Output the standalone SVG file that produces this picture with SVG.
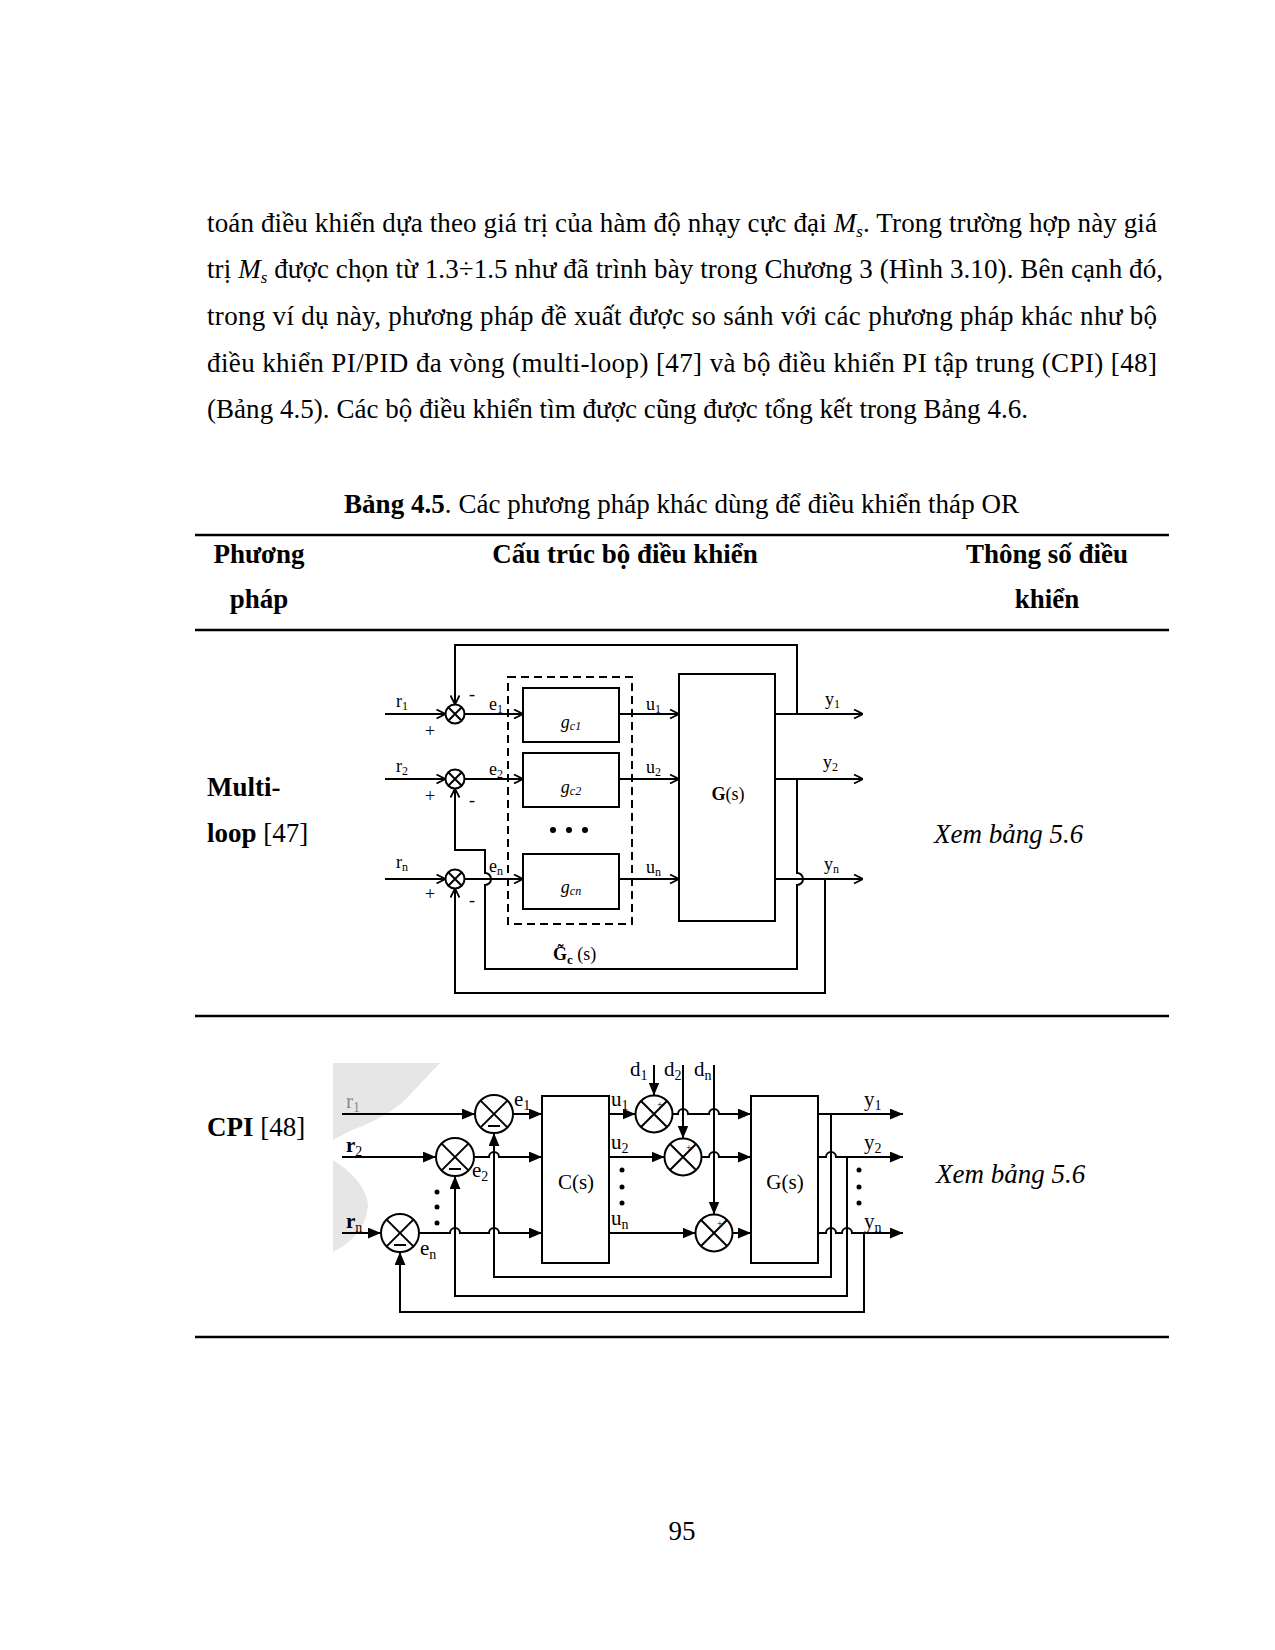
<svg xmlns="http://www.w3.org/2000/svg" width="1275" height="1650" viewBox="0 0 1275 1650">
<style>
.body{font-family:"Liberation Serif","Times New Roman",serif;font-size:27px;fill:#000}
.hdr{font-family:"Liberation Serif",serif;font-size:27px;font-weight:bold;fill:#000}
.it{font-style:italic}
.rule{stroke:#000;stroke-width:2.5}
.ln{fill:none;stroke:#000;stroke-width:2}
.ml{font-family:"Liberation Serif",serif;font-size:18px;fill:#000}
.cp{font-family:"Liberation Serif",serif;font-size:21px;fill:#000}
.blk{fill:#fff;stroke:#000;stroke-width:2}
</style>
<defs>
<marker id="oa" viewBox="0 0 10 10" refX="10" refY="5" markerWidth="10" markerHeight="10" markerUnits="userSpaceOnUse" orient="auto">
<path d="M1,0.5 L10,5 L1,9.5" fill="none" stroke="#000" stroke-width="1.8"/>
</marker>
<marker id="fa" viewBox="0 0 12 10" refX="12" refY="5" markerWidth="13" markerHeight="11" markerUnits="userSpaceOnUse" orient="auto">
<path d="M0,0 L12,5 L0,10 Z" fill="#000"/>
</marker>
</defs>

<!-- body text -->
<g id="paragraph">
<text class="body" x="207" y="232" textLength="950" lengthAdjust="spacing">toán điều khiển dựa theo giá trị của hàm độ nhạy cực đại <tspan class="it">M</tspan><tspan class="it" font-size="17" dy="5">s</tspan><tspan dy="-5">. Trong trường hợp này giá</tspan></text>
<text class="body" x="207" y="278" textLength="956" lengthAdjust="spacing">trị <tspan class="it">M</tspan><tspan class="it" font-size="17" dy="5">s</tspan><tspan dy="-5"> được chọn từ 1.3÷1.5 như đã trình bày trong Chương 3 (Hình 3.10). Bên cạnh đó,</tspan></text>
<text class="body" x="207" y="325" textLength="950" lengthAdjust="spacing">trong ví dụ này, phương pháp đề xuất được so sánh với các phương pháp khác như bộ</text>
<text class="body" x="207" y="372" textLength="950" lengthAdjust="spacing">điều khiển PI/PID đa vòng (multi-loop) [47] và bộ điều khiển PI tập trung (CPI) [48]</text>
<text class="body" x="207" y="418" textLength="821" lengthAdjust="spacing">(Bảng 4.5). Các bộ điều khiển tìm được cũng được tổng kết trong Bảng 4.6.</text>
</g>

<g id="caption">
<text class="body" x="344" y="513" textLength="675" lengthAdjust="spacing"><tspan font-weight="bold">Bảng 4.5</tspan>. Các phương pháp khác dùng để điều khiển tháp OR</text>
</g>

<!-- table rules -->
<g id="table-rules">
<line class="rule" x1="195" y1="535" x2="1169" y2="535" stroke-width="3"/>
<line class="rule" x1="195" y1="630" x2="1169" y2="630"/>
<line class="rule" x1="195" y1="1016" x2="1169" y2="1016"/>
<line class="rule" x1="195" y1="1337" x2="1169" y2="1337"/>
</g>

<g id="header">
<text class="hdr" x="259" y="563" text-anchor="middle">Phương</text>
<text class="hdr" x="259" y="608" text-anchor="middle">pháp</text>
<text class="hdr" x="625" y="563" text-anchor="middle">Cấu trúc bộ điều khiển</text>
<text class="hdr" x="1047" y="563" text-anchor="middle">Thông số điều</text>
<text class="hdr" x="1047" y="608" text-anchor="middle">khiển</text>
</g>

<g id="row-multiloop">
<text class="hdr" x="207" y="796">Multi-</text>
<text class="body" x="207" y="842"><tspan font-weight="bold">loop</tspan> [47]</text>
<text class="body it" x="934" y="843">Xem bảng 5.6</text>
</g>

<g id="row-cpi">
<text class="body" x="207" y="1136"><tspan font-weight="bold">CPI</tspan> [48]</text>
<text class="body it" x="936" y="1183">Xem bảng 5.6</text>
</g>

<g id="page-number">
<text class="body" x="682" y="1540" text-anchor="middle">95</text>
</g>

<!-- ===== Multi-loop diagram ===== -->
<g id="ml-dashed-box">
<rect x="508" y="677" width="124" height="247" fill="none" stroke="#000" stroke-width="2" stroke-dasharray="8,5"/>
<text class="ml" x="553" y="960"><tspan font-weight="bold">G̃</tspan><tspan font-size="13" dy="4" font-weight="bold">c</tspan><tspan dy="-4"> (s)</tspan></text>
</g>
<g id="ml-sum1"><circle cx="455" cy="714" r="9.5" class="blk"/><path class="ln" d="M448.3,707.3 L461.7,720.7 M461.7,707.3 L448.3,720.7" stroke-width="1.6"/></g>
<g id="ml-sum2"><circle cx="455" cy="779" r="9.5" class="blk"/><path class="ln" d="M448.3,772.3 L461.7,785.7 M461.7,772.3 L448.3,785.7" stroke-width="1.6"/></g>
<g id="ml-sumn"><circle cx="455" cy="879" r="9.5" class="blk"/><path class="ln" d="M448.3,872.3 L461.7,885.7 M461.7,872.3 L448.3,885.7" stroke-width="1.6"/></g>
<g id="ml-gc1"><rect x="523" y="688" width="96" height="54" class="blk"/><text class="ml it" x="571" y="728" text-anchor="middle" font-size="19">g<tspan font-size="12" dy="2">c1</tspan></text></g>
<g id="ml-gc2"><rect x="523" y="753" width="96" height="54" class="blk"/><text class="ml it" x="571" y="793" text-anchor="middle" font-size="19">g<tspan font-size="12" dy="2">c2</tspan></text></g>
<g id="ml-gcn"><rect x="523" y="854" width="96" height="55" class="blk"/><text class="ml it" x="571" y="893" text-anchor="middle" font-size="19">g<tspan font-size="12" dy="2">cn</tspan></text></g>
<g id="ml-dots"><circle cx="553" cy="830" r="3"/><circle cx="569" cy="830" r="3"/><circle cx="585" cy="830" r="3"/></g>
<g id="ml-G"><rect x="679" y="674" width="96" height="247" class="blk"/><text class="ml" x="728" y="800" text-anchor="middle" font-size="21"><tspan font-weight="bold">G</tspan>(s)</text></g>

<g id="ml-connectors">
<path class="ln" d="M385,714 L445.5,714" marker-end="url(#oa)"/>
<path class="ln" d="M385,779 L445.5,779" marker-end="url(#oa)"/>
<path class="ln" d="M385,879 L445.5,879" marker-end="url(#oa)"/>
<path class="ln" d="M464.5,714 L523,714" marker-end="url(#oa)"/>
<path class="ln" d="M464.5,779 L523,779" marker-end="url(#oa)"/>
<path class="ln" d="M464.5,879 L523,879" marker-end="url(#oa)"/>
<path class="ln" d="M619,714 L679,714" marker-end="url(#oa)"/>
<path class="ln" d="M619,779 L679,779" marker-end="url(#oa)"/>
<path class="ln" d="M619,879 L679,879" marker-end="url(#oa)"/>
<path class="ln" d="M775,714 L863,714" marker-end="url(#oa)"/>
<path class="ln" d="M775,779 L863,779" marker-end="url(#oa)"/>
<path class="ln" d="M775,879 L863,879" marker-end="url(#oa)"/>
<path class="ln" d="M797,714 L797,645 L455,645 L455,704.5" marker-end="url(#oa)"/>
<path class="ln" d="M797,779 L797,873 A6,6 0 0 1 797,885 L797,969 L485,969 L485,885 A6,6 0 0 0 485,873 L485,850 L455,850 L455,788.5" marker-end="url(#oa)"/>
<path class="ln" d="M825,879 L825,993 L455,993 L455,888.5" marker-end="url(#oa)"/>
</g>
<g id="ml-labels" class="ml">
<text x="396" y="707">r<tspan font-size="12" dy="3">1</tspan></text>
<text x="396" y="772">r<tspan font-size="12" dy="3">2</tspan></text>
<text x="396" y="868">r<tspan font-size="12" dy="3">n</tspan></text>
<text x="430" y="737" text-anchor="middle">+</text>
<text x="430" y="802" text-anchor="middle">+</text>
<text x="430" y="900" text-anchor="middle">+</text>
<text x="472" y="700" text-anchor="middle">-</text>
<text x="472" y="806" text-anchor="middle">-</text>
<text x="472" y="906" text-anchor="middle">-</text>
<text x="489" y="710">e<tspan font-size="12" dy="3">1</tspan></text>
<text x="489" y="775">e<tspan font-size="12" dy="3">2</tspan></text>
<text x="489" y="872">e<tspan font-size="12" dy="3">n</tspan></text>
<text x="646" y="710">u<tspan font-size="12" dy="3">1</tspan></text>
<text x="646" y="773">u<tspan font-size="12" dy="3">2</tspan></text>
<text x="646" y="873">u<tspan font-size="12" dy="3">n</tspan></text>
<text x="825" y="705">y<tspan font-size="12" dy="3">1</tspan></text>
<text x="823" y="768">y<tspan font-size="12" dy="3">2</tspan></text>
<text x="824" y="870">y<tspan font-size="12" dy="3">n</tspan></text>
</g>

<!-- ===== CPI diagram ===== -->
<g id="watermark" fill="#e6e6e6">
<path d="M333,1063 L440,1063 L405,1100 Q385,1118 352,1130 L333,1140 Z"/>
<path d="M333,1160 Q365,1180 368,1205 Q366,1235 333,1252 Z"/>
</g>
<g id="cp-sum1"><circle cx="494" cy="1114" r="19" class="blk"/><path class="ln" d="M480.6,1100.6 L507.4,1127.4 M507.4,1100.6 L480.6,1127.4" stroke-width="1.8"/><line x1="488" y1="1126" x2="500" y2="1126" stroke="#000" stroke-width="2"/></g>
<g id="cp-sum2"><circle cx="455" cy="1157" r="19" class="blk"/><path class="ln" d="M441.6,1143.6 L468.4,1170.4 M468.4,1143.6 L441.6,1170.4" stroke-width="1.8"/><line x1="449" y1="1169" x2="461" y2="1169" stroke="#000" stroke-width="2"/></g>
<g id="cp-sumn"><circle cx="400" cy="1233" r="19" class="blk"/><path class="ln" d="M386.6,1219.6 L413.4,1246.4 M413.4,1219.6 L386.6,1246.4" stroke-width="1.8"/><line x1="394" y1="1245" x2="406" y2="1245" stroke="#000" stroke-width="2"/></g>
<g id="cp-C"><rect x="542" y="1096" width="67" height="167" class="blk"/><text class="cp" x="576" y="1189" text-anchor="middle" font-size="25">C(s)</text></g>
<g id="cp-d1"><circle cx="654" cy="1114" r="18.5" class="blk"/><path class="ln" d="M641,1101 L667,1127 M667,1101 L641,1127" stroke-width="1.8"/><text x="657" y="1108" font-family="Liberation Serif,serif" font-size="10">+</text></g>
<g id="cp-d2"><circle cx="683" cy="1157" r="18.5" class="blk"/><path class="ln" d="M670,1144 L696,1170 M696,1144 L670,1170" stroke-width="1.8"/><text x="686" y="1151" font-family="Liberation Serif,serif" font-size="10">+</text></g>
<g id="cp-dn"><circle cx="714" cy="1233" r="18.5" class="blk"/><path class="ln" d="M701,1220 L727,1246 M727,1220 L701,1246" stroke-width="1.8"/><text x="717" y="1227" font-family="Liberation Serif,serif" font-size="10">+</text></g>
<g id="cp-G"><rect x="751" y="1096" width="67" height="167" class="blk"/><text class="cp" x="785" y="1189" text-anchor="middle" font-size="25">G(s)</text></g>

<g id="cp-connectors">
<path class="ln" d="M342,1114 L475,1114" marker-end="url(#fa)"/>
<path class="ln" d="M342,1157 L436,1157" marker-end="url(#fa)"/>
<path class="ln" d="M342,1233 L381,1233" marker-end="url(#fa)"/>
<path class="ln" d="M513,1114 L542,1114" marker-end="url(#fa)"/>
<path class="ln" d="M474,1157 L489,1157 A5,5 0 0 1 499,1157 L542,1157" marker-end="url(#fa)"/>
<path class="ln" d="M419,1233 L450,1233 A5,5 0 0 1 460,1233 L489,1233 A5,5 0 0 1 499,1233 L542,1233" marker-end="url(#fa)"/>
<path class="ln" d="M831,1114 L831,1277 L494,1277 L494,1133" marker-end="url(#fa)"/>
<path class="ln" d="M847,1157 L847,1296 L455,1296 L455,1176" marker-end="url(#fa)"/>
<path class="ln" d="M864,1233 L864,1312 L400,1312 L400,1252" marker-end="url(#fa)"/>
<path class="ln" d="M609,1114 L635.5,1114" marker-end="url(#fa)"/>
<path class="ln" d="M672.5,1114 L678,1114 A5,5 0 0 1 688,1114 L709,1114 A5,5 0 0 1 719,1114 L751,1114" marker-end="url(#fa)"/>
<path class="ln" d="M609,1157 L664.5,1157" marker-end="url(#fa)"/>
<path class="ln" d="M701.5,1157 L709,1157 A5,5 0 0 1 719,1157 L751,1157" marker-end="url(#fa)"/>
<path class="ln" d="M609,1233 L695.5,1233" marker-end="url(#fa)"/>
<path class="ln" d="M732.5,1233 L751,1233" marker-end="url(#fa)"/>
<path class="ln" d="M654,1065 L654,1095.5" marker-end="url(#fa)"/>
<path class="ln" d="M683,1065 L683,1138.5" marker-end="url(#fa)"/>
<path class="ln" d="M714,1065 L714,1214.5" marker-end="url(#fa)"/>
<path class="ln" d="M818,1114 L903,1114" marker-end="url(#fa)"/>
<path class="ln" d="M818,1157 L826,1157 A5,5 0 0 1 836,1157 L903,1157" marker-end="url(#fa)"/>
<path class="ln" d="M818,1233 L826,1233 A5,5 0 0 1 836,1233 L842,1233 A5,5 0 0 1 852,1233 L903,1233" marker-end="url(#fa)"/>
</g>
<g id="cp-dots">
<circle cx="437" cy="1192" r="2.5"/><circle cx="437" cy="1207" r="2.5"/><circle cx="437" cy="1223" r="2.5"/>
<circle cx="622" cy="1170" r="2.5"/><circle cx="622" cy="1187" r="2.5"/><circle cx="622" cy="1203" r="2.5"/>
<circle cx="859" cy="1170" r="2.5"/><circle cx="859" cy="1187" r="2.5"/><circle cx="859" cy="1203" r="2.5"/>
</g>
<g id="cp-labels" class="cp">
<text x="346" y="1108" fill="#8a8a8a">r<tspan font-size="14" dy="4">1</tspan></text>
<text x="346" y="1152" font-weight="bold">r<tspan font-size="14" dy="4" font-weight="normal">2</tspan></text>
<text x="346" y="1228" font-weight="bold">r<tspan font-size="14" dy="4" font-weight="normal">n</tspan></text>
<text x="514" y="1106">e<tspan font-size="14" dy="4">1</tspan></text>
<text x="472" y="1177">e<tspan font-size="14" dy="4">2</tspan></text>
<text x="420" y="1255">e<tspan font-size="14" dy="4">n</tspan></text>
<text x="611" y="1106">u<tspan font-size="14" dy="4">1</tspan></text>
<text x="611" y="1149">u<tspan font-size="14" dy="4">2</tspan></text>
<text x="611" y="1225">u<tspan font-size="14" dy="4">n</tspan></text>
<text x="630" y="1076">d<tspan font-size="14" dy="4">1</tspan></text>
<text x="664" y="1076">d<tspan font-size="14" dy="4">2</tspan></text>
<text x="694" y="1076">d<tspan font-size="14" dy="4">n</tspan></text>
<text x="864" y="1106">y<tspan font-size="14" dy="4">1</tspan></text>
<text x="864" y="1149">y<tspan font-size="14" dy="4">2</tspan></text>
<text x="864" y="1228">y<tspan font-size="14" dy="4">n</tspan></text>
</g>
</svg>
